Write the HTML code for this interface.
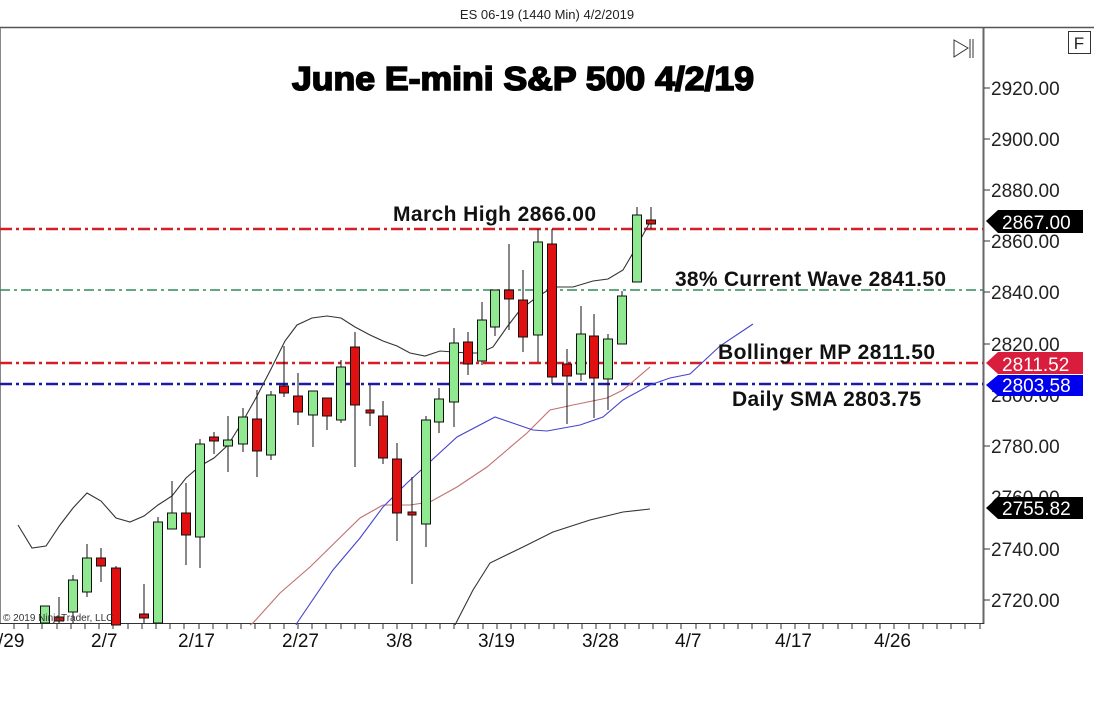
<!DOCTYPE html>
<html><head><meta charset="utf-8"><style>
html,body{margin:0;padding:0;background:#fff;}
svg{display:block;font-family:"Liberation Sans",Arial,sans-serif;}
</style></head><body>
<svg width="1094" height="710" viewBox="0 0 1094 710" xmlns="http://www.w3.org/2000/svg">
<rect width="1094" height="710" fill="#fff"/>
<text x="547" y="19" font-size="13" text-anchor="middle" fill="#222">ES 06-19 (1440 Min)  4/2/2019</text>
<line x1="0" y1="27.5" x2="1094" y2="27.5" stroke="#555" stroke-width="1.5"/>
<line x1="0.5" y1="28" x2="0.5" y2="623" stroke="#888"/>
<line x1="983.5" y1="28" x2="983.5" y2="624" stroke="#666" stroke-width="2"/>
<line x1="0" y1="623.5" x2="984" y2="623.5" stroke="#333"/>
<path stroke="#333" d="M14,624v5M28,624v5M42,624v5M57,624v5M71,624v5M85,624v5M99,624v5M113,624v5M128,624v5M142,624v5M156,624v5M170,624v5M184,624v5M199,624v5M213,624v5M227,624v5M241,624v5M255,624v5M270,624v5M284,624v5M298,624v5M312,624v5M326,624v5M341,624v5M355,624v5M369,624v5M383,624v5M397,624v5M412,624v5M426,624v5M440,624v5M454,624v5M468,624v5M483,624v5M497,624v5M511,624v5M525,624v5M539,624v5M554,624v5M568,624v5M582,624v5M596,624v5M610,624v5M625,624v5M639,624v5M653,624v5M667,624v5M681,624v5M696,624v5M710,624v5M724,624v5M738,624v5M752,624v5M767,624v5M781,624v5M795,624v5M809,624v5M823,624v5M838,624v5M852,624v5M866,624v5M880,624v5M894,624v5M909,624v5M923,624v5M937,624v5M951,624v5M965,624v5M980,624v5"/>
<text x="523" y="90" font-size="33" font-weight="bold" text-anchor="middle" stroke="#000" stroke-width="1.6" textLength="462" lengthAdjust="spacingAndGlyphs">June E-mini S&amp;P 500 4/2/19</text>
<g stroke-width="2.5" stroke-dasharray="12,4,3,4">
<line x1="0" y1="229" x2="983" y2="229" stroke="#d0202a"/>
<line x1="0" y1="363" x2="983" y2="363" stroke="#d0202a"/>
<line x1="0" y1="384" x2="983" y2="384" stroke="#1a1aa8"/>
</g>
<line x1="0" y1="290" x2="983" y2="290" stroke="#2e8b57" stroke-width="1.5" stroke-dasharray="10,4,3,4"/>
<g fill="none" stroke-width="1.1">
<polyline stroke="#333" points="18,525 32,548 46,546 60,525 73,508 87,493 101,501 116,518 130,522 144,516 158,505 172,496 186,478 200,466 214,458 228,445 243,421 257,396 271,369 285,341 297,325 312,318 327,316 341,318 355,327 370,335 383,341 397,346 410,353 425,356 440,351 453,352 468,353 480,353 493,347 507,327 520,310 537,297 553,287 573,287 593,281 608,279 623,270 633,253 650,222"/>
<polyline stroke="#c07070" points="250,625 253,623 280,593 310,567 360,518 383,505 410,505 430,502 457,487 487,467 527,433 550,410 573,405 607,398 623,390 650,367"/>
<polyline stroke="#4444cc" points="296,625 297,623 333,570 360,538 383,507 407,483 457,437 495,417 533,430 547,431 580,425 603,417 623,400 650,385 670,378 690,374 720,346 753,324"/>
<polyline stroke="#333" points="455,625 473,590 490,563 523,547 553,532 590,520 623,512 650,509"/>
</g>
<g stroke="#111" stroke-width="1">
<path d="M45,606V623M59,597V623M73,575V623M87,544V597M101,548V582M116,566V623M144,584V623M158,517V623M172,481V529M186,483V565M200,439V568M214,432V454M228,416V472M243,408V452M257,390V477M271,391V460M284,346V397M298,373V425M313,391V447M327,398V430M341,360V423M355,332V467M370,385V426M383,401V464M397,443V541M412,477V584M426,416V547M439,388V433M454,328V427M468,332V375M482,302V365M495,290V336M509,244V330M523,270V352M538,229V362M552,229V384M567,349V424M581,306V381M594,314V418M608,334V410M622,291V344M637,207V282M651,207V229"/>
<g fill="#90e890">
<rect x="40.5" y="606" width="9" height="17"/>
<rect x="68.5" y="580" width="9" height="32"/>
<rect x="82.5" y="558" width="9" height="34"/>
<rect x="153.5" y="522" width="9" height="101"/>
<rect x="167.5" y="513" width="9" height="16"/>
<rect x="195.5" y="444" width="9" height="93"/>
<rect x="223.5" y="440" width="9" height="6"/>
<rect x="238.5" y="417" width="9" height="27"/>
<rect x="266.5" y="395" width="9" height="60"/>
<rect x="308.5" y="391" width="9" height="24"/>
<rect x="336.5" y="367" width="9" height="53"/>
<rect x="421.5" y="420" width="9" height="104"/>
<rect x="434.5" y="399" width="9" height="23"/>
<rect x="449.5" y="343" width="9" height="59"/>
<rect x="477.5" y="320" width="9" height="41"/>
<rect x="490.5" y="290" width="9" height="37"/>
<rect x="533.5" y="242" width="9" height="93"/>
<rect x="576.5" y="334" width="9" height="40"/>
<rect x="603.5" y="339" width="9" height="40"/>
<rect x="617.5" y="296" width="9" height="48"/>
<rect x="632.5" y="215" width="9" height="67"/>
</g>
<g fill="#e01010">
<rect x="54.5" y="617" width="9" height="4"/>
<rect x="96.5" y="558" width="9" height="8"/>
<rect x="111.5" y="568" width="9" height="57"/>
<rect x="139.5" y="614" width="9" height="4"/>
<rect x="181.5" y="513" width="9" height="22"/>
<rect x="209.5" y="437" width="9" height="4"/>
<rect x="252.5" y="419" width="9" height="32"/>
<rect x="279.5" y="386" width="9" height="7"/>
<rect x="293.5" y="396" width="9" height="16"/>
<rect x="322.5" y="398" width="9" height="18"/>
<rect x="350.5" y="347" width="9" height="58"/>
<rect x="366" y="410" width="8" height="3"/>
<rect x="378.5" y="416" width="9" height="42"/>
<rect x="392.5" y="459" width="9" height="54"/>
<rect x="408" y="512" width="8" height="3"/>
<rect x="463.5" y="342" width="9" height="22"/>
<rect x="504.5" y="290" width="9" height="9"/>
<rect x="518.5" y="300" width="9" height="37"/>
<rect x="547.5" y="244" width="9" height="133"/>
<rect x="562.5" y="364" width="9" height="12"/>
<rect x="589.5" y="336" width="9" height="42"/>
<rect x="646.5" y="220" width="9" height="4"/>
</g>
</g>
<g font-size="21" font-weight="bold" fill="#111" lengthAdjust="spacingAndGlyphs">
<text x="393" y="221" textLength="203">March High 2866.00</text>
<text x="675" y="286" textLength="271">38% Current Wave 2841.50</text>
<text x="718" y="359" textLength="217">Bollinger MP 2811.50</text>
<text x="732" y="406" textLength="189">Daily SMA 2803.75</text>
</g>
<text x="3" y="621" font-size="10" fill="#333">© 2019 NinjaTrader, LLC</text>
<g font-size="19" fill="#222">
<line x1="984" y1="88" x2="990" y2="88" stroke="#333"/><text x="991" y="95">2920.00</text>
<line x1="984" y1="139" x2="990" y2="139" stroke="#333"/><text x="991" y="146">2900.00</text>
<line x1="984" y1="190" x2="990" y2="190" stroke="#333"/><text x="991" y="197">2880.00</text>
<line x1="984" y1="241" x2="990" y2="241" stroke="#333"/><text x="991" y="248">2860.00</text>
<line x1="984" y1="292" x2="990" y2="292" stroke="#333"/><text x="991" y="299">2840.00</text>
<line x1="984" y1="344" x2="990" y2="344" stroke="#333"/><text x="991" y="351">2820.00</text>
<text x="991" y="402">2800.00</text>
<line x1="984" y1="446" x2="990" y2="446" stroke="#333"/><text x="991" y="453">2780.00</text>
<text x="991" y="504">2760.00</text>
<line x1="984" y1="549" x2="990" y2="549" stroke="#333"/><text x="991" y="556">2740.00</text>
<line x1="984" y1="600" x2="990" y2="600" stroke="#333"/><text x="991" y="607">2720.00</text>
</g>
<g font-size="19">
<path d="M986,221 L998,210 L1083,210 L1083,233 L998,233 Z" fill="#000"/><text x="1002" y="229" fill="#fff">2867.00</text>
<path d="M986,363 L998,352 L1083,352 L1083,374 L998,374 Z" fill="#d81e3c"/><text x="1002" y="371" fill="#fff">2811.52</text>
<path d="M986,385 L998,375 L1083,375 L1083,396 L998,396 Z" fill="#0000ee"/><text x="1002" y="392" fill="#fff">2803.58</text>
<path d="M986,508 L998,497 L1083,497 L1083,519 L998,519 Z" fill="#000"/><text x="1002" y="515" fill="#fff">2755.82</text>
</g>
<rect x="1068.5" y="31.5" width="22" height="22" fill="#fff" stroke="#333"/>
<text x="1079" y="49" font-size="17" text-anchor="middle" fill="#222">F</text>
<path d="M954,40 L968,48 L954,57 Z" fill="none" stroke="#333"/>
<line x1="970" y1="39" x2="970" y2="58" stroke="#333"/><line x1="973" y1="39" x2="973" y2="58" stroke="#333"/>
<g font-size="19" fill="#111">
<text x="-2" y="647">/29</text>
<text x="91" y="647">2/7</text>
<text x="178" y="647">2/17</text>
<text x="282" y="647">2/27</text>
<text x="386" y="647">3/8</text>
<text x="478" y="647">3/19</text>
<text x="582" y="647">3/28</text>
<text x="675" y="647">4/7</text>
<text x="775" y="647">4/17</text>
<text x="874" y="647">4/26</text>
</g>
</svg>
</body></html>
